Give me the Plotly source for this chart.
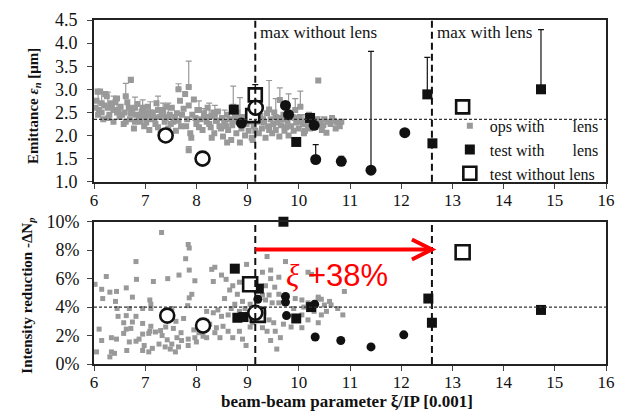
import plotly.graph_objects as go

# ---------------- data ----------------
# operational fills with lens (top: emittance [um], bottom: intensity reduction [%])
ops_top_x = [6.05, 6.1, 6.12, 6.18, 6.2, 6.25, 6.3, 6.33, 6.38, 6.4, 6.45, 6.5, 6.52, 6.58, 6.6,
             6.65, 6.7, 6.75, 6.78, 6.82, 6.85, 6.9, 6.93, 6.98, 7.0, 7.05, 7.08, 7.12, 7.15, 7.2,
             7.22, 7.28, 7.3, 7.35, 7.38, 7.45, 7.48, 7.52, 7.55, 7.6, 7.62, 7.68, 7.7, 7.75, 7.78,
             7.82, 7.85, 7.88, 7.92, 7.95, 8.0, 8.02, 8.08, 8.12, 8.15, 8.2, 8.22, 8.28, 8.3, 8.35,
             8.38, 8.42, 8.45, 8.5, 8.52, 8.55, 8.6, 8.62, 8.65, 8.68, 8.7, 8.75, 8.78, 8.82, 8.85,
             8.88, 8.92, 8.95, 8.98, 9.02, 9.05, 9.08, 9.12, 9.2, 9.22, 9.25, 9.28, 9.32, 9.35, 9.38,
             9.4, 9.45, 9.48, 9.5, 9.52, 9.55, 9.6, 9.62, 9.65, 9.7, 9.72, 9.78, 9.8, 9.85, 9.88,
             9.9, 9.95, 10.0, 10.02, 10.08, 10.1, 10.15, 10.18, 10.25, 10.3, 10.35, 10.38, 10.42,
             10.48, 10.5, 10.54, 10.58, 10.62, 10.68, 10.75, 10.8, 10.83, 7.9, 8.3, 8.6, 9.1,
             6.02, 6.07, 6.15, 6.22, 6.28, 6.35, 6.42, 6.48, 6.55, 6.62, 6.68, 6.72, 6.8, 6.88,
             6.95, 7.02, 7.1, 7.18, 7.25, 7.32, 7.4, 7.42, 7.5, 7.58, 7.65, 7.72, 7.8, 7.98,
             8.05, 8.18, 8.25, 8.33, 8.4, 8.48, 8.58, 8.72, 8.8, 8.9, 9.0, 9.15, 9.18, 9.3,
             9.42, 9.58, 9.68, 9.75, 9.92, 10.05, 10.12, 10.22, 10.28, 10.4, 10.45, 10.65, 10.72]
ops_top_y = [2.75, 2.55, 2.95, 2.35, 2.65, 2.85, 2.45, 2.7, 2.3, 2.55, 2.8, 2.4, 2.62, 2.25, 2.5,
             2.72, 2.35, 2.58, 2.15, 2.45, 2.68, 2.3, 2.52, 2.2, 2.4, 2.62, 2.12, 2.35, 2.5, 2.25,
             2.7, 2.4, 2.05, 2.55, 2.3, 2.15, 2.45, 2.6, 2.3, 2.1, 2.48, 2.75, 2.2, 2.58, 2.9,
             2.35, 2.65, 2.05, 2.45, 2.78, 2.25, 2.55, 2.35, 2.12, 2.48, 2.3, 2.6, 2.18, 2.42, 2.05,
             2.32, 2.52, 2.2, 2.38, 1.98, 2.28, 2.45, 2.12, 2.35, 1.9, 2.22, 2.42, 2.05, 2.3, 1.85,
             2.15, 2.4, 2.0, 2.25, 2.1, 2.35, 1.95, 2.2, 2.3, 2.05, 2.42, 2.15, 2.28, 1.95, 2.48,
             2.2, 2.35, 2.05, 2.25, 2.5, 2.12, 2.38, 1.98, 2.22, 2.45, 2.1, 2.3, 2.0, 2.2, 2.4,
             2.1, 2.28, 2.15, 2.4, 2.25, 2.05, 2.32, 2.18, 2.3, 2.2, 2.35, 3.19, 2.28,
             2.22, 2.35, 2.06, 2.3, 2.25, 2.32, 2.28, 2.2, 2.3, 1.95, 1.95, 1.85, 1.9,
             2.6, 2.95, 2.5, 2.9, 2.38, 2.62, 2.72, 2.55, 2.45, 2.3, 2.6, 2.48, 2.3, 2.42,
             2.6, 2.28, 2.45, 2.38, 2.18, 2.5, 2.38, 2.62, 2.25, 2.4, 2.32, 2.45, 2.2, 2.38,
             2.18, 2.4, 2.25, 2.5, 2.32, 2.15, 2.2, 2.32, 2.5, 2.22, 2.3, 2.1, 2.38, 2.35,
             2.12, 2.28, 2.35, 2.18, 2.38, 2.3, 2.1, 2.15, 2.28, 2.25, 2.12, 2.38, 2.15]

# operational fills that carry an upper error bar
ops_bar_x = [6.08, 6.27, 6.45, 6.62, 6.72, 6.8, 6.95, 7.1, 7.25, 7.45, 7.65, 7.85, 7.85,
             8.05, 8.25, 8.36, 8.72, 8.85, 9.42, 9.55, 9.63, 9.8, 9.93, 10.03, 10.2,
             6.15, 6.38, 7.0, 7.35, 8.15, 8.55, 9.25, 10.1, 10.4]
ops_bar_y = [2.45, 2.6, 2.5, 2.85, 3.2, 2.6, 2.45, 2.5, 2.55, 2.4, 3.0, 3.05, 1.68,
             2.55, 2.4, 2.45, 2.62, 2.4, 2.56, 2.4, 2.77, 2.5, 2.55, 2.62, 2.3,
             2.7, 2.55, 2.5, 2.45, 2.4, 2.3, 2.35, 2.3, 2.3]
ops_bar_err = [0.45, 0.34, 0.3, 0.28, 0.06, 0.23, 0.32, 0.23, 0.3, 0.3, 0.12, 0.56, 0.08,
               0.2, 0.3, 0.2, 0.45, 0.42, 0.63, 0.4, 0.26, 0.4, 0.25, 0.34, 0.2,
               0.25, 0.3, 0.15, 0.25, 0.18, 0.25, 0.3, 0.15, 0.1]

ops_bot_x = [7.32, 7.84, 7.86, 7.79, 6.82, 7.86, 7.66, 6.24, 6.83, 7.44, 7.16, 7.97, 6.02, 6.15,
             6.31, 6.44, 6.63, 6.17, 6.42, 6.75, 7.09, 7.11, 7.86, 7.91, 7.83, 6.45, 6.69, 6.95,
             7.11, 7.52, 6.47, 6.63, 6.82, 6.58, 6.75, 6.95, 7.11, 7.09, 6.63, 6.72, 6.58, 6.1,
             6.15, 6.05, 6.34, 6.44, 6.34, 6.4, 6.31, 6.69, 6.82, 6.88, 6.64, 6.95, 7.07, 6.98,
             7.14, 6.95, 7.07, 7.33, 7.43, 7.27, 7.52, 7.62, 7.71, 7.84, 7.97, 8.13, 8.0, 7.84,
             7.65, 7.49, 7.39, 7.59, 7.2, 7.3, 7.55, 7.7, 7.95, 8.05, 7.6, 7.75, 7.4,
             9.38, 9.74, 8.98, 8.36, 8.49, 8.33, 8.58, 8.71, 8.84, 8.65, 9.29, 9.45, 9.45, 9.61,
             9.35, 9.53, 9.29, 9.42, 9.61, 9.61, 9.48, 9.35, 9.93, 10.06, 10.18, 10.38, 10.5,
             8.2, 8.33, 8.42, 8.49, 8.62, 8.68, 8.84, 8.2, 8.26, 8.39, 8.52, 8.36, 8.2, 8.46,
             8.62, 8.71, 8.9, 8.97, 8.84, 9.22, 9.32, 9.42, 9.51, 9.29, 9.38, 9.54, 9.64, 9.45,
             9.57, 9.7, 10.06, 10.18, 10.06, 10.38, 10.44, 10.54, 10.18, 10.25, 10.89, 10.38,
             10.44, 10.6, 10.63, 10.76, 10.86, 8.95, 9.0, 9.05, 8.9, 9.1, 9.05, 8.3, 8.8, 8.55,
             8.75, 9.9, 10.1, 9.85, 10.3]
ops_bot_y = [9.25, 8.4, 8.15, 7.4, 7.2, 6.6, 6.25, 6.15, 5.95, 6.0, 5.8, 5.85, 5.6, 5.25,
             5.05, 5.1, 5.35, 4.6, 4.4, 4.7, 4.5, 4.2, 4.65, 4.9, 4.1, 3.9, 3.9, 3.9,
             3.9, 3.9, 3.35, 3.4, 3.35, 2.9, 2.95, 2.85, 2.65, 2.3, 2.45, 2.5, 2.15, 2.45,
             1.65, 0.85, 1.85, 1.75, 0.85, 0.75, 0.5, 1.55, 1.6, 1.75, 0.95, 2.1, 2.15, 1.3,
             1.1, 0.95, 0.85, 2.0, 1.7, 1.4, 1.4, 1.85, 1.65, 1.75, 1.85, 1.95, 1.55, 1.3,
             1.2, 1.05, 1.2, 0.85, 2.25, 2.35, 2.5, 2.2, 2.4, 2.2, 3.0, 3.2, 2.6,
             7.55, 7.2, 7.0, 6.8, 6.25, 5.8, 5.95, 5.5, 5.75, 5.2, 6.45, 6.6, 6.0, 6.1,
             5.5, 5.4, 4.85, 4.85, 4.9, 4.3, 4.3, 4.5, 4.6, 4.5, 4.3, 4.6, 4.15,
             3.7, 3.6, 3.8, 3.35, 3.45, 3.9, 3.7, 3.0, 2.8, 2.55, 2.65, 2.2, 1.85, 1.85,
             2.3, 1.85, 1.75, 1.3, 2.3, 3.35, 3.6, 3.1, 2.9, 2.55, 2.3, 2.3, 1.85, 1.65,
             1.05, 2.8, 3.45, 3.1, 2.55, 2.9, 3.45, 3.7, 6.45, 6.3, 5.1, 4.7,
             4.55, 4.4, 4.15, 3.9, 3.45, 3.9, 3.5, 4.2, 4.4, 2.9, 2.6, 6.65, 4.9, 4.6,
             4.2, 3.9, 4.0, 2.6, 3.7]

# dedicated tests with lens (None = no error bar)
test_sq_top_x = [8.73, 9.95, 10.22, 12.51, 12.61, 14.73]
test_sq_top_y = [2.56, 1.86, 2.38, 2.89, 1.83, 3.0]
test_sq_top_err = [None, None, None, 0.8, None, 1.29]
test_ci_top_x = [8.88, 9.74, 9.8, 10.3, 10.33, 10.83, 11.41, 12.07]
test_ci_top_y = [2.27, 2.65, 2.45, 2.22, 1.48, 1.44, 1.25, 2.06]
test_ci_top_err = [None, None, None, None, 0.32, 0.11, 2.57, None]

test_sq_bot_x = [9.7, 8.75, 9.22, 8.8, 8.92, 9.95, 10.24, 12.53, 12.6, 14.73]
test_sq_bot_y = [10.0, 6.7, 5.3, 3.25, 3.3, 3.2, 4.0, 4.6, 2.9, 3.8]
test_ci_bot_x = [9.2, 9.74, 9.74, 9.76, 10.31, 10.32, 10.82, 11.41, 12.05]
test_ci_bot_y = [4.55, 4.75, 4.35, 3.4, 4.2, 1.9, 1.65, 1.2, 2.05]

# dedicated tests without lens
nolens_sq_top_x = [9.15, 9.1, 13.2]
nolens_sq_top_y = [2.88, 2.43, 2.62]
nolens_sq_top_err = [0.22, None, None]
nolens_ci_top_x = [7.4, 8.12, 9.16]
nolens_ci_top_y = [2.0, 1.5, 2.6]

nolens_sq_bot_x = [9.05, 9.2, 13.2]
nolens_sq_bot_y = [5.6, 3.45, 7.85]
nolens_ci_bot_x = [7.43, 8.13, 9.15]
nolens_ci_bot_y = [3.4, 2.7, 3.6]

# reference levels
xi_max_without_lens = 9.15
xi_max_with_lens = 12.6
emittance_ref = 2.35
loss_ref = 4.0
arrow_level = 8.05

x_ticks = [6, 7, 8, 9, 10, 11, 12, 13, 14, 15, 16]
emit_ticks = [1.0, 1.5, 2.0, 2.5, 3.0, 3.5, 4.0, 4.5]
loss_ticks = [0, 2, 4, 6, 8, 10]
loss_tick_text = [f"{v}%" for v in loss_ticks]

# ---------------- styling ----------------
SERIF = "Liberation Serif, Times New Roman, DejaVu Serif, serif"
GRAY = "#999999"
INK = "#111111"

fig = go.Figure()


def add(x, y, xa, ya, symbol, size, color, line_w=0, line_c=None, err=None,
        err_c=INK, name=None, legend=False, clip=True):
    kw = {}
    if err is not None:
        kw["error_y"] = dict(type="data", symmetric=False, array=err,
                             arrayminus=[0 if e is not None else None for e in err],
                             color=err_c, thickness=1.2, width=3)
    fig.add_trace(go.Scatter(
        x=x, y=y, xaxis=xa, yaxis=ya, mode="markers", name=name,
        showlegend=legend, cliponaxis=clip,
        marker=dict(symbol=symbol, size=size, color=color,
                    line=dict(width=line_w, color=line_c or color)),
        **kw))


# top panel: emittance
add(ops_top_x, ops_top_y, "x", "y", "square", 6, GRAY,
    name="ops with\u00a0\u00a0\u00a0\u00a0\u00a0\u00a0\u00a0lens", legend=True)
add(ops_bar_x, ops_bar_y, "x", "y", "square", 6, GRAY, err=ops_bar_err, err_c=GRAY)
add(test_sq_top_x, test_sq_top_y, "x", "y", "square", 10, INK, err=test_sq_top_err,
    name="test with\u00a0\u00a0\u00a0\u00a0\u00a0\u00a0\u00a0lens", legend=True, clip=False)
add(test_ci_top_x, test_ci_top_y, "x", "y", "circle", 11, INK, err=test_ci_top_err,
    clip=False)
add(nolens_sq_top_x, nolens_sq_top_y, "x", "y", "square", 13, "white", line_w=2.6,
    line_c=INK, err=nolens_sq_top_err, name="test without lens", legend=True, clip=False)
add(nolens_ci_top_x, nolens_ci_top_y, "x", "y", "circle", 14, "white", line_w=2.6,
    line_c=INK, clip=False)

# bottom panel: intensity reduction
add(ops_bot_x, ops_bot_y, "x2", "y2", "square", 5, GRAY)
add(test_sq_bot_x, test_sq_bot_y, "x2", "y2", "square", 10, INK, clip=False)
add(test_ci_bot_x, test_ci_bot_y, "x2", "y2", "circle", 9, INK, clip=False)
add(nolens_sq_bot_x, nolens_sq_bot_y, "x2", "y2", "square", 14, "white", line_w=2.6,
    line_c=INK, clip=False)
add(nolens_ci_bot_x, nolens_ci_bot_y, "x2", "y2", "circle", 14, "white", line_w=2.6,
    line_c=INK, clip=False)

axis_common = dict(showline=True, mirror=True, linecolor="#222", linewidth=2,
                   ticks="outside", ticklen=5, tickcolor="#444", showgrid=False,
                   zeroline=False)
x_font = dict(family=SERIF, size=17, color="#111")
y_font = dict(family=SERIF, size=18, color="#111")

shapes = []
for xa, ya in (("x", "y"), ("x2", "y2")):
    for xv in (xi_max_without_lens, xi_max_with_lens):
        shapes.append(dict(type="line", xref=xa, yref=f"{ya} domain", x0=xv, x1=xv,
                           y0=0, y1=1, line=dict(color=INK, width=2, dash="7px,4px")))
shapes.append(dict(type="line", xref="x domain", yref="y", x0=0, x1=1,
                   y0=emittance_ref, y1=emittance_ref,
                   line=dict(color="#333", width=1.2, dash="3px,2px")))
shapes.append(dict(type="line", xref="x2 domain", yref="y2", x0=0, x1=1,
                   y0=loss_ref, y1=loss_ref,
                   line=dict(color="#333", width=1.2, dash="3px,2px")))
# red arrow: gain in beam-beam parameter from the lens
shapes.append(dict(type="line", xref="x2", yref="y2", x0=xi_max_without_lens,
                   x1=xi_max_with_lens - 0.03, y0=arrow_level, y1=arrow_level,
                   line=dict(color="#ff0000", width=4)))
shapes.append(dict(type="path", xref="x2", yref="y2", xsizemode="pixel",
                   ysizemode="pixel", xanchor=xi_max_with_lens, yanchor=arrow_level,
                   path="M -20,-10 L 0,0 L -20,10",
                   line=dict(color="#ff0000", width=4)))

annotations = [
    dict(text="max without lens", xref="x", yref="y domain", x=xi_max_without_lens,
         y=1, xanchor="left", yanchor="top", xshift=3, yshift=-1, showarrow=False,
         font=dict(family=SERIF, size=17, color="#111")),
    dict(text="max with lens", xref="x", yref="y domain", x=xi_max_with_lens,
         y=1, xanchor="left", yanchor="top", xshift=3, yshift=-1, showarrow=False,
         font=dict(family=SERIF, size=17, color="#111")),
    dict(text="<span style='font-family:Liberation Serif'><i>ξ</i></span> +38%",
         xref="x2", yref="y2", x=9.72, y=6.25, xanchor="left", yanchor="middle",
         showarrow=False, font=dict(family="Liberation Sans", size=31, color="#ff0000")),
    dict(text="<b>Emittance <i>ε<sub>n</sub></i> [μm]</b>", xref="paper", yref="paper",
         x=-0.117, y=0.75, textangle=-90, showarrow=False, xanchor="center",
         yanchor="middle", font=dict(family=SERIF, size=15, color="#111")),
    dict(text="<b>Intensity reduction -ΔN<sub><i>p</i></sub></b>", xref="paper",
         yref="paper", x=-0.128, y=0.2, textangle=-90, showarrow=False,
         xanchor="center", yanchor="middle",
         font=dict(family=SERIF, size=15, color="#111")),
    dict(text="<b>beam-beam parameter ξ/IP [0.001]</b>", xref="paper", yref="paper",
         x=0.495, y=-0.11, showarrow=False, xanchor="center", yanchor="middle",
         font=dict(family=SERIF, size=17, color="#111")),
]

fig.update_layout(
    width=625, height=413, margin=dict(l=94, r=10, t=11, b=49),
    paper_bgcolor="white", plot_bgcolor="white",
    xaxis=dict(domain=[0, 1], anchor="y", range=[6, 16], tickvals=x_ticks,
               ticklabelstandoff=-3, tickfont=x_font, **axis_common),
    yaxis=dict(domain=[0.53, 1], anchor="x", range=[1.0, 4.5], tickvals=emit_ticks,
               tickformat=".1f", ticklabelstandoff=6, tickfont=y_font, **axis_common),
    xaxis2=dict(domain=[0, 1], anchor="y2", range=[6, 16], tickvals=x_ticks,
                ticklabelstandoff=-3, tickfont=x_font, **axis_common),
    yaxis2=dict(domain=[0, 0.4136], anchor="x2", range=[0, 10], tickvals=loss_ticks,
                ticktext=loss_tick_text, ticklabelstandoff=4, tickfont=y_font,
                **axis_common),
    shapes=shapes, annotations=annotations,
    legend=dict(x=0.695, y=0.742, xanchor="left", yanchor="top",
                bgcolor="rgba(0,0,0,0)", font=dict(family=SERIF, size=16, color="#111"),
                itemsizing="trace", tracegroupgap=0),
)

fig.write_html("out.html")
